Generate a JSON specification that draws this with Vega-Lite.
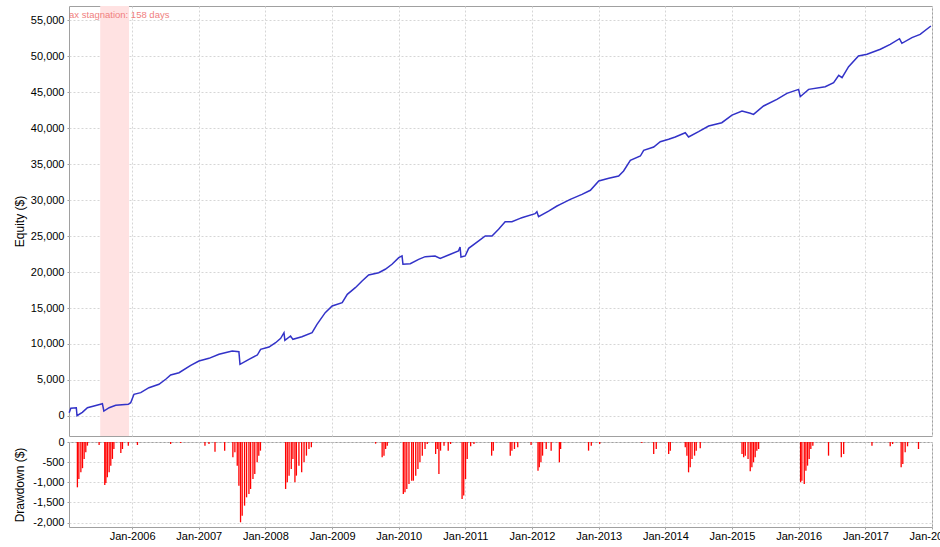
{
  "$schema": "https://vega.github.io/schema/vega-lite/v6.json",
  "autosize": {"type": "pad"},
  "padding": {"left": 12, "top": 5, "right": 10, "bottom": 5},
  "bounds": "flush",
  "spacing": 6,
  "background": "white",
  "config": {
    "locale": {"number": {"decimal": ".", "thousands": ",", "grouping": [3], "currency": ["$", ""], "minus": "-"}},
    "view": {"stroke": "#a0a0a0", "strokeWidth": 1},
    "font": "Liberation Sans",
    "axis": {
      "labelFont": "Liberation Sans", "labelFontSize": 11, "labelColor": "#000000",
      "titleFont": "Liberation Sans", "titleFontSize": 12, "titleFontWeight": "normal", "titleColor": "#000000",
      "gridColor": "#d6d6d6", "gridDash": [2, 2], "domain": false,
      "tickColor": "#a0a0a0", "tickSize": 2, "labelPadding": 3
    }
  },
  "datasets": {
    "stagnation": [
      {"start": "2005-07-10", "end": "2005-12-15", "days": 158, "label": "Max stagnation: 158 days"}
    ],
    "equity": [
      {"date": "2005-01-21", "equity": 450},
      {"date": "2005-01-30", "equity": 1070},
      {"date": "2005-03-01", "equity": 1150},
      {"date": "2005-03-05", "equity": 40},
      {"date": "2005-04-03", "equity": 510},
      {"date": "2005-05-01", "equity": 1150},
      {"date": "2005-06-06", "equity": 1390},
      {"date": "2005-07-22", "equity": 1710},
      {"date": "2005-07-30", "equity": 690},
      {"date": "2005-08-28", "equity": 1150},
      {"date": "2005-10-03", "equity": 1490},
      {"date": "2005-12-11", "equity": 1620},
      {"date": "2005-12-24", "equity": 1850},
      {"date": "2006-01-11", "equity": 3010},
      {"date": "2006-02-17", "equity": 3240},
      {"date": "2006-04-03", "equity": 3930},
      {"date": "2006-05-28", "equity": 4400},
      {"date": "2006-07-04", "equity": 5100},
      {"date": "2006-07-31", "equity": 5700},
      {"date": "2006-09-15", "equity": 6010},
      {"date": "2006-11-18", "equity": 7040},
      {"date": "2007-01-02", "equity": 7640},
      {"date": "2007-02-26", "equity": 8010},
      {"date": "2007-04-22", "equity": 8570},
      {"date": "2007-07-03", "equity": 9030},
      {"date": "2007-08-09", "equity": 8930},
      {"date": "2007-08-15", "equity": 7180},
      {"date": "2007-10-03", "equity": 7870},
      {"date": "2007-11-18", "equity": 8470},
      {"date": "2007-12-06", "equity": 9260},
      {"date": "2008-01-21", "equity": 9580},
      {"date": "2008-02-26", "equity": 10180},
      {"date": "2008-03-25", "equity": 10790},
      {"date": "2008-04-12", "equity": 11570},
      {"date": "2008-04-17", "equity": 10510},
      {"date": "2008-05-18", "equity": 11110},
      {"date": "2008-05-31", "equity": 10650},
      {"date": "2008-07-19", "equity": 11000},
      {"date": "2008-09-13", "equity": 11570},
      {"date": "2008-10-10", "equity": 12730},
      {"date": "2008-11-24", "equity": 14350},
      {"date": "2009-01-01", "equity": 15280},
      {"date": "2009-02-25", "equity": 15740},
      {"date": "2009-03-25", "equity": 16900},
      {"date": "2009-05-08", "equity": 17820},
      {"date": "2009-06-14", "equity": 18750},
      {"date": "2009-07-20", "equity": 19580},
      {"date": "2009-09-13", "equity": 19900},
      {"date": "2009-10-19", "equity": 20380},
      {"date": "2009-11-25", "equity": 21070},
      {"date": "2010-01-01", "equity": 21990},
      {"date": "2010-01-19", "equity": 22230},
      {"date": "2010-01-24", "equity": 21070},
      {"date": "2010-03-05", "equity": 21160},
      {"date": "2010-04-20", "equity": 21760},
      {"date": "2010-05-26", "equity": 22130},
      {"date": "2010-07-19", "equity": 22230},
      {"date": "2010-08-16", "equity": 21900},
      {"date": "2010-10-01", "equity": 22360},
      {"date": "2010-11-24", "equity": 22920},
      {"date": "2010-12-03", "equity": 23470},
      {"date": "2010-12-08", "equity": 22080},
      {"date": "2010-12-31", "equity": 22230},
      {"date": "2011-01-19", "equity": 23290},
      {"date": "2011-03-15", "equity": 24310},
      {"date": "2011-04-20", "equity": 25000},
      {"date": "2011-05-27", "equity": 25000},
      {"date": "2011-07-02", "equity": 25930},
      {"date": "2011-08-07", "equity": 26990},
      {"date": "2011-09-13", "equity": 26990},
      {"date": "2011-10-28", "equity": 27450},
      {"date": "2011-11-06", "equity": 27540},
      {"date": "2012-01-18", "equity": 28100},
      {"date": "2012-01-28", "equity": 28380},
      {"date": "2012-02-06", "equity": 27680},
      {"date": "2012-04-01", "equity": 28470},
      {"date": "2012-05-17", "equity": 29170},
      {"date": "2012-06-04", "equity": 29400},
      {"date": "2012-07-29", "equity": 30090},
      {"date": "2012-10-01", "equity": 30790},
      {"date": "2012-11-16", "equity": 31350},
      {"date": "2013-01-01", "equity": 32640},
      {"date": "2013-02-25", "equity": 33010},
      {"date": "2013-04-20", "equity": 33330},
      {"date": "2013-05-17", "equity": 34030},
      {"date": "2013-06-23", "equity": 35510},
      {"date": "2013-08-17", "equity": 36110},
      {"date": "2013-09-04", "equity": 36900},
      {"date": "2013-10-29", "equity": 37360},
      {"date": "2013-12-04", "equity": 38100},
      {"date": "2014-01-19", "equity": 38430},
      {"date": "2014-02-24", "equity": 38750},
      {"date": "2014-04-20", "equity": 39350},
      {"date": "2014-05-08", "equity": 38750},
      {"date": "2014-07-02", "equity": 39490},
      {"date": "2014-08-26", "equity": 40280},
      {"date": "2014-11-06", "equity": 40740},
      {"date": "2015-01-01", "equity": 41800},
      {"date": "2015-02-25", "equity": 42360},
      {"date": "2015-04-11", "equity": 42040},
      {"date": "2015-04-29", "equity": 41900},
      {"date": "2015-06-23", "equity": 43060},
      {"date": "2015-09-04", "equity": 43990},
      {"date": "2015-10-29", "equity": 44810},
      {"date": "2016-01-01", "equity": 45370},
      {"date": "2016-01-10", "equity": 44350},
      {"date": "2016-02-25", "equity": 45370},
      {"date": "2016-05-26", "equity": 45740},
      {"date": "2016-07-11", "equity": 46300},
      {"date": "2016-08-08", "equity": 47320},
      {"date": "2016-08-26", "equity": 47000},
      {"date": "2016-10-01", "equity": 48530},
      {"date": "2016-11-24", "equity": 50010},
      {"date": "2017-01-10", "equity": 50240},
      {"date": "2017-03-24", "equity": 50940},
      {"date": "2017-05-17", "equity": 51630},
      {"date": "2017-07-07", "equity": 52410},
      {"date": "2017-07-20", "equity": 51770},
      {"date": "2017-09-13", "equity": 52550},
      {"date": "2017-10-28", "equity": 53010},
      {"date": "2017-12-26", "equity": 54170}
    ],
    "drawdown": [
      {"date": "2005-03-07", "dd": -1125},
      {"date": "2005-03-15", "dd": -918},
      {"date": "2005-03-26", "dd": -750},
      {"date": "2005-04-04", "dd": -650},
      {"date": "2005-04-13", "dd": -420},
      {"date": "2005-04-22", "dd": -256},
      {"date": "2005-05-01", "dd": -90},
      {"date": "2005-07-04", "dd": -75},
      {"date": "2005-08-04", "dd": -1067},
      {"date": "2005-08-10", "dd": -1017},
      {"date": "2005-08-18", "dd": -877},
      {"date": "2005-08-28", "dd": -750},
      {"date": "2005-09-06", "dd": -587},
      {"date": "2005-09-15", "dd": -420},
      {"date": "2005-09-23", "dd": -174},
      {"date": "2005-10-31", "dd": -273},
      {"date": "2005-11-09", "dd": -174},
      {"date": "2005-12-11", "dd": -90},
      {"date": "2006-01-30", "dd": -75},
      {"date": "2006-07-31", "dd": -50},
      {"date": "2006-09-24", "dd": -25},
      {"date": "2007-02-04", "dd": -90},
      {"date": "2007-02-26", "dd": -50},
      {"date": "2007-03-31", "dd": -240},
      {"date": "2007-05-23", "dd": -215},
      {"date": "2007-07-07", "dd": -380},
      {"date": "2007-07-18", "dd": -256},
      {"date": "2007-07-31", "dd": -587},
      {"date": "2007-08-09", "dd": -1083},
      {"date": "2007-08-18", "dd": -1993},
      {"date": "2007-08-27", "dd": -1828},
      {"date": "2007-09-09", "dd": -1580},
      {"date": "2007-09-20", "dd": -1373},
      {"date": "2007-10-03", "dd": -1290},
      {"date": "2007-10-12", "dd": -1166},
      {"date": "2007-10-25", "dd": -918},
      {"date": "2007-11-04", "dd": -794},
      {"date": "2007-11-17", "dd": -504},
      {"date": "2007-11-26", "dd": -339},
      {"date": "2007-12-05", "dd": -215},
      {"date": "2008-04-21", "dd": -1166},
      {"date": "2008-04-30", "dd": -1000},
      {"date": "2008-05-10", "dd": -835},
      {"date": "2008-05-22", "dd": -670},
      {"date": "2008-05-31", "dd": -420},
      {"date": "2008-06-11", "dd": -1000},
      {"date": "2008-06-19", "dd": -835},
      {"date": "2008-07-03", "dd": -587},
      {"date": "2008-07-18", "dd": -750},
      {"date": "2008-07-31", "dd": -504},
      {"date": "2008-08-13", "dd": -339},
      {"date": "2008-08-27", "dd": -174},
      {"date": "2008-09-09", "dd": -132},
      {"date": "2009-08-27", "dd": -41},
      {"date": "2009-10-02", "dd": -380},
      {"date": "2009-10-12", "dd": -339},
      {"date": "2009-10-21", "dd": -174},
      {"date": "2009-10-30", "dd": -90},
      {"date": "2010-01-26", "dd": -1290},
      {"date": "2010-02-04", "dd": -1250},
      {"date": "2010-02-14", "dd": -1166},
      {"date": "2010-02-26", "dd": -1040},
      {"date": "2010-03-13", "dd": -960},
      {"date": "2010-03-22", "dd": -960},
      {"date": "2010-04-04", "dd": -835},
      {"date": "2010-04-16", "dd": -670},
      {"date": "2010-04-27", "dd": -504},
      {"date": "2010-05-10", "dd": -339},
      {"date": "2010-05-25", "dd": -174},
      {"date": "2010-06-06", "dd": -50},
      {"date": "2010-07-22", "dd": -298},
      {"date": "2010-07-31", "dd": -174},
      {"date": "2010-08-09", "dd": -794},
      {"date": "2010-08-18", "dd": -215},
      {"date": "2010-09-06", "dd": -90},
      {"date": "2010-09-29", "dd": -215},
      {"date": "2010-10-12", "dd": -50},
      {"date": "2010-12-14", "dd": -1414},
      {"date": "2010-12-23", "dd": -1331},
      {"date": "2011-01-02", "dd": -918},
      {"date": "2011-01-11", "dd": -420},
      {"date": "2011-01-30", "dd": -107},
      {"date": "2011-02-17", "dd": -50},
      {"date": "2011-05-25", "dd": -339},
      {"date": "2011-06-03", "dd": -215},
      {"date": "2011-09-04", "dd": -339},
      {"date": "2011-09-13", "dd": -215},
      {"date": "2011-09-27", "dd": -174},
      {"date": "2011-10-15", "dd": -132},
      {"date": "2011-12-27", "dd": -75},
      {"date": "2012-02-03", "dd": -711},
      {"date": "2012-02-10", "dd": -628},
      {"date": "2012-02-19", "dd": -504},
      {"date": "2012-02-28", "dd": -339},
      {"date": "2012-03-19", "dd": -174},
      {"date": "2012-04-15", "dd": -215},
      {"date": "2012-05-30", "dd": -504},
      {"date": "2012-06-06", "dd": -174},
      {"date": "2012-11-06", "dd": -215},
      {"date": "2012-11-21", "dd": -90},
      {"date": "2013-01-06", "dd": -50},
      {"date": "2013-08-25", "dd": -25},
      {"date": "2013-10-29", "dd": -298},
      {"date": "2013-11-12", "dd": -174},
      {"date": "2014-01-19", "dd": -298},
      {"date": "2014-01-28", "dd": -215},
      {"date": "2014-04-20", "dd": -132},
      {"date": "2014-04-29", "dd": -339},
      {"date": "2014-05-08", "dd": -753},
      {"date": "2014-05-17", "dd": -628},
      {"date": "2014-05-27", "dd": -420},
      {"date": "2014-06-10", "dd": -339},
      {"date": "2014-06-19", "dd": -215},
      {"date": "2014-07-11", "dd": -157},
      {"date": "2015-02-25", "dd": -298},
      {"date": "2015-03-06", "dd": -380},
      {"date": "2015-03-15", "dd": -339},
      {"date": "2015-03-30", "dd": -420},
      {"date": "2015-04-11", "dd": -728},
      {"date": "2015-04-20", "dd": -628},
      {"date": "2015-04-29", "dd": -504},
      {"date": "2015-05-08", "dd": -380},
      {"date": "2015-05-17", "dd": -215},
      {"date": "2015-05-27", "dd": -174},
      {"date": "2016-01-12", "dd": -1000},
      {"date": "2016-01-19", "dd": -960},
      {"date": "2016-02-01", "dd": -1042},
      {"date": "2016-02-10", "dd": -711},
      {"date": "2016-02-19", "dd": -587},
      {"date": "2016-02-28", "dd": -420},
      {"date": "2016-03-08", "dd": -174},
      {"date": "2016-03-19", "dd": -90},
      {"date": "2016-06-13", "dd": -339},
      {"date": "2016-08-22", "dd": -380},
      {"date": "2016-09-04", "dd": -298},
      {"date": "2017-02-06", "dd": -90},
      {"date": "2017-05-17", "dd": -107},
      {"date": "2017-05-30", "dd": -50},
      {"date": "2017-07-16", "dd": -628},
      {"date": "2017-07-25", "dd": -546},
      {"date": "2017-08-07", "dd": -256},
      {"date": "2017-08-20", "dd": -107},
      {"date": "2017-10-19", "dd": -174}
    ]
  },
  "vconcat": [
    {
      "width": 863,
      "height": 430,
      "layer": [
        {
          "data": {"name": "stagnation"},
          "mark": {"type": "rect", "color": "#ffe2e2"},
          "encoding": {
            "x": {
              "field": "start", "type": "temporal",
              "scale": {"type": "utc", "domain": [{"year": 2005, "month": 1, "date": 20, "utc": true}, {"year": 2018, "month": 1, "date": 1, "utc": true}]},
              "axis": {
                "title": null, "labels": false, "ticks": false, "grid": true,
                "values": [
                  {"year": 2006, "month": 1, "date": 1, "utc": true},
                  {"year": 2007, "month": 1, "date": 1, "utc": true},
                  {"year": 2008, "month": 1, "date": 1, "utc": true},
                  {"year": 2009, "month": 1, "date": 1, "utc": true},
                  {"year": 2010, "month": 1, "date": 1, "utc": true},
                  {"year": 2011, "month": 1, "date": 1, "utc": true},
                  {"year": 2012, "month": 1, "date": 1, "utc": true},
                  {"year": 2013, "month": 1, "date": 1, "utc": true},
                  {"year": 2014, "month": 1, "date": 1, "utc": true},
                  {"year": 2015, "month": 1, "date": 1, "utc": true},
                  {"year": 2016, "month": 1, "date": 1, "utc": true},
                  {"year": 2017, "month": 1, "date": 1, "utc": true},
                  {"year": 2018, "month": 1, "date": 1, "utc": true}
                ]
              }
            },
            "x2": {"field": "end"}
          }
        },
        {
          "data": {"name": "equity"},
          "mark": {"type": "line", "color": "#3232c8", "strokeWidth": 1.5},
          "encoding": {
            "x": {"field": "date", "type": "temporal"},
            "y": {
              "field": "equity", "type": "quantitative",
              "scale": {"domain": [-2780, 56950], "nice": false, "zero": false},
              "axis": {
                "title": "Equity ($)", "titlePadding": 4, "format": ",.0f", "grid": true,
                "values": [0, 5000, 10000, 15000, 20000, 25000, 30000, 35000, 40000, 45000, 50000, 55000]
              }
            }
          }
        },
        {
          "data": {"name": "stagnation"},
          "mark": {"type": "text", "align": "left", "baseline": "middle", "fontSize": 9.5, "color": "#f08080", "clip": true},
          "encoding": {
            "x": {"datum": {"year": 2004, "month": 12, "date": 8, "utc": true}, "type": "temporal"},
            "y": {
              "datum": 55700, "type": "quantitative",
              "axis": {
                "title": "Equity ($)", "titlePadding": 4, "format": ",.0f", "grid": true,
                "values": [0, 5000, 10000, 15000, 20000, 25000, 30000, 35000, 40000, 45000, 50000, 55000]
              }
            },
            "text": {"field": "label"}
          }
        }
      ]
    },
    {
      "width": 863,
      "height": 85,
      "data": {"name": "drawdown"},
      "mark": {"type": "rule", "color": "#ff0000", "strokeWidth": 1.3},
      "encoding": {
        "x": {
          "field": "date", "type": "temporal",
          "scale": {"type": "utc", "domain": [{"year": 2005, "month": 1, "date": 20, "utc": true}, {"year": 2018, "month": 1, "date": 1, "utc": true}]},
          "axis": {
            "title": null, "format": "%b-%Y", "grid": true, "labelFlush": false, "labelOverlap": false, "tickSize": 2, "labelPadding": 1,
            "values": [
              {"year": 2006, "month": 1, "date": 1, "utc": true},
              {"year": 2007, "month": 1, "date": 1, "utc": true},
              {"year": 2008, "month": 1, "date": 1, "utc": true},
              {"year": 2009, "month": 1, "date": 1, "utc": true},
              {"year": 2010, "month": 1, "date": 1, "utc": true},
              {"year": 2011, "month": 1, "date": 1, "utc": true},
              {"year": 2012, "month": 1, "date": 1, "utc": true},
              {"year": 2013, "month": 1, "date": 1, "utc": true},
              {"year": 2014, "month": 1, "date": 1, "utc": true},
              {"year": 2015, "month": 1, "date": 1, "utc": true},
              {"year": 2016, "month": 1, "date": 1, "utc": true},
              {"year": 2017, "month": 1, "date": 1, "utc": true},
              {"year": 2018, "month": 1, "date": 1, "utc": true}
            ]
          }
        },
        "y": {
          "field": "dd", "type": "quantitative",
          "scale": {"domain": [-2110, 0], "nice": false, "zero": false},
          "axis": {"title": "Drawdown ($)", "titlePadding": 6.5, "format": ",.0f", "values": [0, -500, -1000, -1500, -2000]}
        },
        "y2": {"datum": 0}
      }
    }
  ]
}
